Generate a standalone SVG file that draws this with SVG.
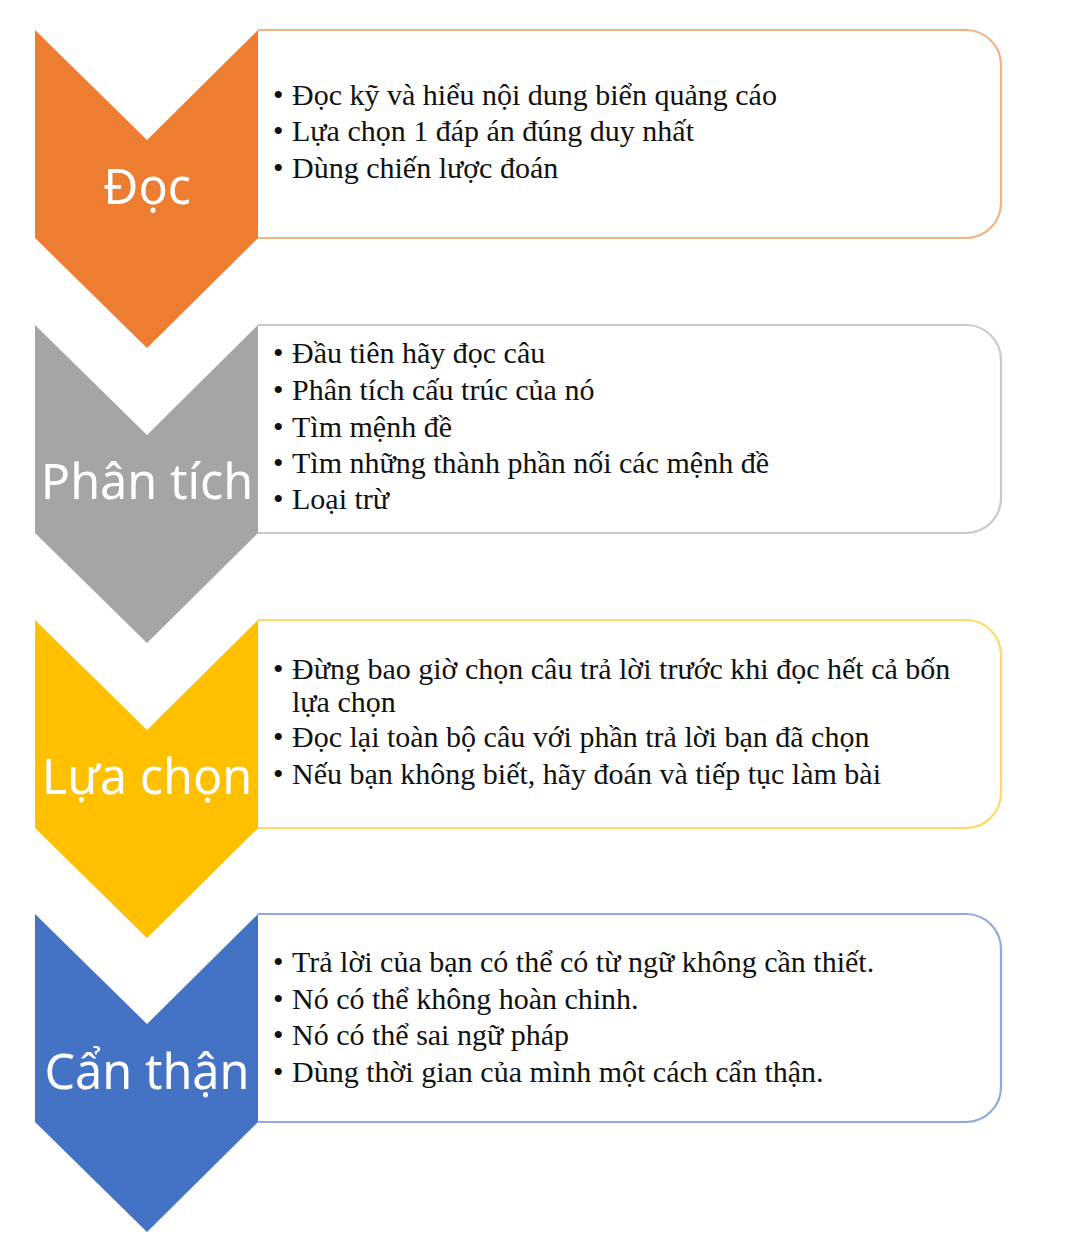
<svg xmlns="http://www.w3.org/2000/svg" width="1080" height="1242" viewBox="0 0 1080 1242">
<style>
.box{fill:#fff;stroke-width:2.2}
.lbl{font-family:"Noto Sans","Open Sans",sans-serif;font-size:48.5px;fill:#fff;text-anchor:middle}
.t{font-family:"Liberation Serif","Times New Roman",serif;font-size:30px;fill:#111}
</style>
<rect width="1080" height="1242" fill="#fff"/>
<g id="doc">
<path class="box" stroke="#F4B183" d="M258 30 H966 A35 35 0 0 1 1001 65 V203 A35 35 0 0 1 966 238 H258"/>
<path fill="#ED7D31" d="M35 30 L147 140 L258 30 V238 L147 348 L35 238 Z"/>
<text class="lbl" x="147" y="204">Đọc</text>
<g class="t">
<text x="273" y="105">•</text><text x="292" y="105">Đọc kỹ và hiểu nội dung biển quảng cáo</text>
<text x="273" y="141">•</text><text x="292" y="141">Lựa chọn 1 đáp án đúng duy nhất</text>
<text x="273" y="178">•</text><text x="292" y="178">Dùng chiến lược đoán</text>
</g>
</g>
<g id="phantich">
<path class="box" stroke="#C9C9C9" d="M258 325 H966 A35 35 0 0 1 1001 360 V498 A35 35 0 0 1 966 533 H258"/>
<path fill="#A5A5A5" d="M35 325 L147 435 L258 325 V533 L147 643 L35 533 Z"/>
<text class="lbl" x="147" y="499">Phân tích</text>
<g class="t">
<text x="273" y="363">•</text><text x="292" y="363">Đầu tiên hãy đọc câu</text>
<text x="273" y="400">•</text><text x="292" y="400">Phân tích cấu trúc của nó</text>
<text x="273" y="437">•</text><text x="292" y="437">Tìm mệnh đề</text>
<text x="273" y="473">•</text><text x="292" y="473">Tìm những thành phần nối các mệnh đề</text>
<text x="273" y="509">•</text><text x="292" y="509">Loại trừ</text>
</g>
</g>
<g id="luachon">
<path class="box" stroke="#FFD966" d="M258 620 H966 A35 35 0 0 1 1001 655 V793 A35 35 0 0 1 966 828 H258"/>
<path fill="#FFC000" d="M35 620 L147 730 L258 620 V828 L147 938 L35 828 Z"/>
<text class="lbl" x="147" y="794">Lựa chọn</text>
<g class="t">
<text x="273" y="679">•</text><text x="292" y="679">Đừng bao giờ chọn câu trả lời trước khi đọc hết cả bốn</text>
<text x="292" y="712">lựa chọn</text>
<text x="273" y="747">•</text><text x="292" y="747">Đọc lại toàn bộ câu với phần trả lời bạn đã chọn</text>
<text x="273" y="784">•</text><text x="292" y="784">Nếu bạn không biết, hãy đoán và tiếp tục làm bài</text>
</g>
</g>
<g id="canthan">
<path class="box" stroke="#8FAADC" d="M258 914 H966 A35 35 0 0 1 1001 949 V1087 A35 35 0 0 1 966 1122 H258"/>
<path fill="#4472C4" d="M35 914 L147 1024 L258 914 V1122 L147 1232 L35 1122 Z"/>
<text class="lbl" x="147" y="1089">Cẩn thận</text>
<g class="t">
<text x="273" y="972">•</text><text x="292" y="972">Trả lời của bạn có thể có từ ngữ không cần thiết.</text>
<text x="273" y="1009">•</text><text x="292" y="1009">Nó có thể không hoàn chinh.</text>
<text x="273" y="1045">•</text><text x="292" y="1045">Nó có thể sai ngữ pháp</text>
<text x="273" y="1082">•</text><text x="292" y="1082">Dùng thời gian của mình một cách cẩn thận.</text>
</g>
</g>
<g id="connectors"/>
</svg>
